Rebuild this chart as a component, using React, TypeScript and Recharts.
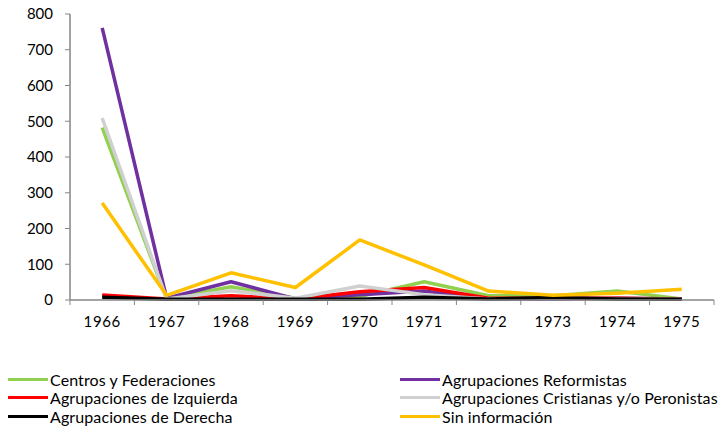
import React from "react";
import { LineChart, Line, XAxis, YAxis } from "recharts";

const years = ["1966", "1967", "1968", "1969", "1970", "1971", "1972", "1973", "1974", "1975"];
const centros = [482, 3, 37, 5, 10, 51, 12, 12, 25, 3];
const reformistas = [761, 5, 51, 3, 15, 25, 2, 2, 5, 3];
const izquierda = [14, 3, 12, 3, 23, 35, 5, 5, 5, 3];
const cristianas = [509, 3, 26, 5, 39, 15, 3, 5, 3, 2];
const derecha = [8, 2, 2, 2, 2, 8, 3, 7, 3, 2];
const sinInfo = [271, 13, 76, 35, 168, 98, 25, 13, 19, 30];
const yTicks = [0, 100, 200, 300, 400, 500, 600, 700, 800];

const series = [
  { key: "centros", name: "Centros y Federaciones", color: "#92D050", values: centros },
  { key: "reformistas", name: "Agrupaciones Reformistas", color: "#7030A0", values: reformistas },
  { key: "izquierda", name: "Agrupaciones de Izquierda", color: "#FF0000", values: izquierda },
  { key: "cristianas", name: "Agrupaciones Cristianas y/o Peronistas", color: "#D0D0D0", values: cristianas },
  { key: "derecha", name: "Agrupaciones de Derecha", color: "#000000", values: derecha },
  { key: "sin", name: "Sin información", color: "#FFC000", values: sinInfo },
];

const data = years.map((y, i) => {
  const row: any = { x: i + 0.5, year: y };
  series.forEach((s) => (row[s.key] = s.values[i]));
  return row;
});

const W = 728;
const H = 428;
const M = { top: 14, right: 14, left: 10, bottom: 98 };
const YW = 60;
const band = (W - M.left - M.right - YW) / years.length;
const FONT = "Lato, 'Open Sans', sans-serif";

const XTick = (props: any) => {
  const { x, y, payload } = props;
  const idx = payload.value;
  if (idx >= years.length) return null;
  return (
    <text x={x + band / 2} y={y + 20} textAnchor="middle" fontSize={15} fill="#000" fontFamily={FONT} letterSpacing={0.6}>
      {years[idx]}
    </text>
  );
};

const LegendBlock = () => (
  <div
    style={{
      position: "absolute",
      left: 0,
      top: 370,
      width: W,
      display: "grid",
      gridTemplateColumns: "392px 336px",
      fontFamily: FONT,
      fontSize: 16,
      letterSpacing: 0.1,
      color: "#000",
    }}
  >
    {series.map((s) => (
      <div key={s.key} style={{ display: "flex", alignItems: "center", height: 18.5, paddingLeft: 8 }}>
        <span style={{ display: "inline-block", width: 40, height: 3, background: s.color, marginRight: 2 }} />
        <span style={{ whiteSpace: "nowrap" }}>{s.name}</span>
      </div>
    ))}
  </div>
);

export default function App() {
  return (
    <div style={{ position: "relative", margin: "-8px 0 0 -8px", width: W, height: H, background: "#fff" }}>
      <LineChart width={W} height={H} data={data} margin={M}>
        <XAxis
          dataKey="x"
          type="number"
          domain={[0, years.length]}
          ticks={years.map((_, i) => i).concat([years.length])}
          tick={<XTick />}
          tickSize={5}
          tickLine={{ stroke: "#868686" }}
          axisLine={{ stroke: "#868686", strokeWidth: 1.5 }}
          height={30}
          interval={0}
        />
        <YAxis
          domain={[0, 800]}
          ticks={yTicks}
          width={YW}
          tickSize={5}
          tickMargin={12}
          tickLine={{ stroke: "#868686" }}
          axisLine={{ stroke: "#868686", strokeWidth: 1.5 }}
          tick={{ fontSize: 15, fill: "#000", fontFamily: FONT }}
          interval={0}
        />
        {series.map((s) => (
          <Line
            key={s.key}
            dataKey={s.key}
            name={s.name}
            stroke={s.color}
            strokeWidth={3.5}
            dot={false}
            activeDot={false}
            isAnimationActive={false}
            strokeLinejoin="round"
          />
        ))}
      </LineChart>
      <LegendBlock />
    </div>
  );
}
